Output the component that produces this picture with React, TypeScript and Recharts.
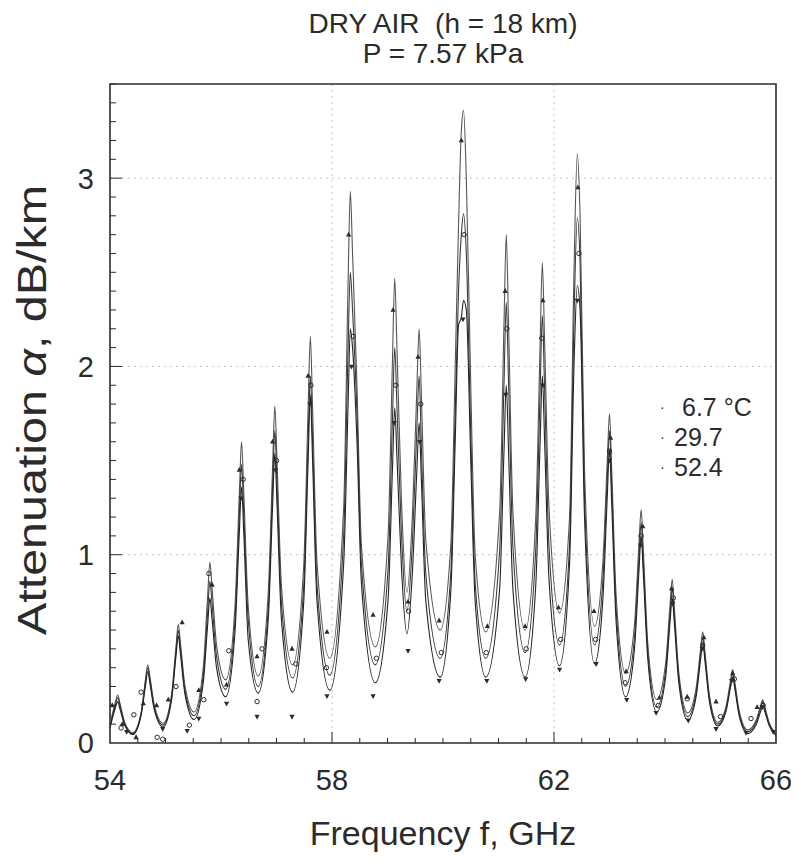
import React from "react"
import { ComposedChart, Line, Scatter, XAxis, YAxis, CartesianGrid, ReferenceArea } from "recharts"

// frequency grid (GHz) shared by the three model curves
const freq = [
  54.0,
  54.1, 54.14, 54.18, 54.26,
  54.41,
  54.56, 54.64, 54.68, 54.72, 54.8,
  54.955,
  55.11, 55.19, 55.23, 55.27, 55.35,
  55.515,
  55.68, 55.76, 55.8, 55.84, 55.92,
  56.085,
  56.25, 56.33, 56.37, 56.41, 56.49,
  56.67,
  56.85, 56.93, 56.97, 57.01, 57.09,
  57.29,
  57.49, 57.57, 57.61, 57.65, 57.73,
  57.96,
  58.21, 58.29, 58.33, 58.37, 58.45, 58.53,
  58.78,
  59.01, 59.09, 59.13, 59.17, 59.25,
  59.35,
  59.45, 59.53, 59.57, 59.61, 59.69,
  59.95,
  60.14, 60.22, 60.28, 60.33, 60.37, 60.42, 60.5, 60.58,
  60.77,
  61.02, 61.1, 61.14, 61.18, 61.26,
  61.48,
  61.67, 61.75, 61.79, 61.83, 61.91,
  62.1,
  62.28, 62.36, 62.42, 62.47, 62.55,
  62.73,
  62.88, 62.96, 63.0, 63.04, 63.12,
  63.29,
  63.45, 63.53, 63.57, 63.61, 63.69,
  63.85,
  64.01, 64.09, 64.13, 64.17, 64.25,
  64.41,
  64.56, 64.64, 64.68, 64.72, 64.8,
  64.95,
  65.1, 65.18, 65.22, 65.26, 65.34,
  65.49,
  65.64, 65.72, 65.76, 65.8, 65.88,
  66.0,
]

// attenuation dB/km, 6.7 °C
const att67 = [
  0.1,
  0.22, 0.255, 0.21, 0.115,
  0.055,
  0.16, 0.34, 0.415, 0.35, 0.2,
  0.105,
  0.26, 0.515, 0.63, 0.53, 0.305,
  0.165,
  0.4, 0.785, 0.96, 0.82, 0.52,
  0.335,
  0.715, 1.32, 1.6, 1.33, 0.73,
  0.355,
  0.79, 1.47, 1.79, 1.49, 0.83,
  0.415,
  0.94, 1.78, 2.16, 1.78, 0.96,
  0.45,
  1.25, 2.45, 2.93, 2.6, 1.9, 1.05,
  0.51,
  1.1, 2.04, 2.47, 2.1, 1.3,
  0.8,
  1.22, 1.89, 2.2, 1.85, 1.08,
  0.6,
  1.05, 2.0, 2.75, 3.25, 3.36, 3.0, 1.9, 1.0,
  0.59,
  1.22, 2.24, 2.7, 2.24, 1.23,
  0.6,
  1.19, 2.12, 2.55, 2.14, 1.25,
  0.69,
  1.2, 2.5, 3.13, 2.8, 1.45,
  0.62,
  0.96, 1.5, 1.75, 1.45, 0.78,
  0.37,
  0.63, 1.05, 1.24, 1.02, 0.53,
  0.23,
  0.42, 0.73, 0.87, 0.71, 0.37,
  0.16,
  0.29, 0.495, 0.59, 0.485, 0.255,
  0.11,
  0.195, 0.33, 0.39, 0.32, 0.165,
  0.07,
  0.12, 0.195, 0.23, 0.19, 0.105,
  0.05,
]

// 29.7 °C
const att297 = [
  0.09,
  0.205, 0.24, 0.2, 0.105,
  0.05,
  0.155, 0.325, 0.4, 0.335, 0.185,
  0.095,
  0.245, 0.49, 0.6, 0.5, 0.28,
  0.145,
  0.36, 0.7, 0.86, 0.735, 0.46,
  0.285,
  0.645, 1.22, 1.48, 1.22, 0.655,
  0.3,
  0.71, 1.36, 1.66, 1.37, 0.74,
  0.345,
  0.83, 1.6, 1.95, 1.6, 0.84,
  0.36,
  1.1, 2.1, 2.5, 2.3, 1.75, 0.95,
  0.415,
  0.92, 1.73, 2.1, 1.79, 1.12,
  0.7,
  1.075, 1.675, 1.95, 1.58, 0.9,
  0.45,
  0.9, 1.75, 2.4, 2.7, 2.81, 2.6, 1.65, 0.85,
  0.45,
  1.02, 1.92, 2.34, 1.93, 1.04,
  0.48,
  1.02, 1.875, 2.27, 1.885, 1.045,
  0.52,
  1.05, 2.25, 2.79, 2.55, 1.3,
  0.52,
  0.86, 1.41, 1.66, 1.36, 0.71,
  0.3,
  0.56, 0.98, 1.17, 0.955, 0.485,
  0.19,
  0.38, 0.68, 0.82, 0.67, 0.345,
  0.14,
  0.265, 0.47, 0.56, 0.46, 0.24,
  0.1,
  0.18, 0.31, 0.37, 0.3, 0.155,
  0.06,
  0.11, 0.185, 0.22, 0.18, 0.1,
  0.045,
]

// 52.4 °C
const att524 = [
  0.08,
  0.19, 0.22, 0.18, 0.098,
  0.045,
  0.146, 0.306, 0.38, 0.315, 0.174,
  0.085,
  0.23, 0.465, 0.57, 0.47, 0.26,
  0.125,
  0.32, 0.63, 0.77, 0.655, 0.4,
  0.245,
  0.58, 1.115, 1.36, 1.12, 0.55,
  0.265,
  0.65, 1.26, 1.54, 1.26, 0.65,
  0.27,
  0.745, 1.5, 1.85, 1.505, 0.75,
  0.28,
  0.95, 1.8, 2.2, 2.1, 1.6, 0.85,
  0.32,
  0.76, 1.46, 1.78, 1.52, 0.94,
  0.58,
  0.915, 1.455, 1.7, 1.4, 0.755,
  0.35,
  0.8, 1.6, 2.22, 2.26, 2.35, 2.3, 1.5, 0.75,
  0.35,
  0.815, 1.56, 1.9, 1.56, 0.815,
  0.35,
  0.83, 1.6, 1.95, 1.61, 0.87,
  0.41,
  0.95, 2.0, 2.43, 2.3, 1.2,
  0.42,
  0.76, 1.31, 1.56, 1.27, 0.64,
  0.245,
  0.5, 0.91, 1.1, 0.895, 0.445,
  0.165,
  0.345, 0.64, 0.77, 0.63, 0.315,
  0.12,
  0.245, 0.44, 0.53, 0.435, 0.22,
  0.09,
  0.17, 0.295, 0.35, 0.285, 0.14,
  0.05,
  0.095, 0.165, 0.2, 0.165, 0.09,
  0.04,
]

// measured points [f, attenuation]
const meas67 = [
  [54.04, 0.2], [54.22, 0.1], [54.47, 0.03], [54.6, 0.21], [54.84, 0.2], [55.05, 0.23], [55.3, 0.64],
  [55.6, 0.28], [55.84, 0.84], [56.1, 0.31], [56.33, 1.45], [56.65, 0.46], [56.93, 1.6], [57.28, 0.5],
  [57.57, 1.95], [57.91, 0.59], [58.3, 2.7], [58.74, 0.68], [59.1, 2.3], [59.37, 0.75], [59.55, 2.05],
  [59.93, 0.65], [60.33, 3.2], [60.8, 0.62], [61.12, 2.4], [61.48, 0.62], [61.8, 2.35], [62.08, 0.72],
  [62.43, 2.95], [62.72, 0.7], [63.02, 1.62], [63.3, 0.38], [63.6, 1.15], [63.9, 0.24], [64.12, 0.82],
  [64.4, 0.245], [64.7, 0.56], [64.92, 0.22], [65.22, 0.37], [65.66, 0.19],
]
const meas297 = [
  [54.2, 0.08], [54.43, 0.15], [54.56, 0.27], [54.85, 0.03], [54.95, 0.02], [55.19, 0.3], [55.43, 0.095],
  [55.69, 0.23], [55.78, 0.9], [56.14, 0.49], [56.4, 1.4], [56.65, 0.22], [56.74, 0.5], [57.0, 1.5],
  [57.35, 0.42], [57.62, 1.9], [57.9, 0.4], [58.38, 2.16], [58.8, 0.45], [59.15, 1.9], [59.38, 0.7],
  [59.6, 1.8], [59.97, 0.48], [60.38, 2.7], [60.78, 0.48], [61.15, 2.2], [61.5, 0.5], [61.78, 2.15],
  [62.12, 0.55], [62.45, 2.6], [62.75, 0.55], [63.0, 1.55], [63.28, 0.32], [63.57, 1.1], [63.88, 0.2],
  [64.15, 0.77], [64.4, 0.235], [64.68, 0.52], [65.0, 0.14], [65.25, 0.34], [65.55, 0.13], [65.77, 0.2],
]
const meas524 = [
  [54.3, 0.06], [54.95, 0.075], [55.39, 0.065], [55.6, 0.13], [56.1, 0.21], [56.36, 1.3], [56.65, 0.14],
  [56.98, 1.45], [57.28, 0.14], [57.6, 1.8], [57.91, 0.25], [58.35, 2.0], [58.74, 0.25], [59.12, 1.7],
  [59.37, 0.49], [59.58, 1.6], [59.93, 0.33], [60.36, 2.25], [60.79, 0.33], [61.13, 1.85], [61.49, 0.34],
  [61.8, 1.9], [62.1, 0.39], [62.42, 2.35], [62.76, 0.42], [63.0, 1.5], [63.31, 0.23], [63.56, 1.05],
  [63.84, 0.16], [64.14, 0.74], [64.42, 0.12], [64.67, 0.5], [64.92, 0.075], [65.2, 0.33], [65.46, 0.055],
  [65.75, 0.19], [65.95, 0.06],
]

const seriesNames = ["6.7 °C", "29.7", "52.4"]
const xLabels = [54, 58, 62, 66]
const yLabels = [0, 1, 2, 3]
const xTicks = Array.from({ length: 25 }, (_, i) => 54 + i * 0.5)
const yTicks = Array.from({ length: 36 }, (_, i) => i / 10)

const FONT = "'Liberation Sans', Arial, Helvetica, sans-serif"
const INK = "#2b2b2b"

const rows = freq.map((f, i) => ({ f, a67: att67[i], a297: att297[i], a524: att524[i] }))
const toPts = (arr: number[][]) => arr.map(([f, a]) => ({ f, a }))

function XTick({ x, y, payload }: any) {
  const v = payload.value
  const major = xLabels.includes(v)
  const edge = v === 54 || v === 66
  return (
    <g>
      {!edge && <line x1={x} x2={x} y1={y} y2={y - (major ? 11 : 5)} stroke={INK} strokeWidth={1} />}
      {major && (
        <text x={x} y={y + 47} textAnchor="middle" fontSize={29} fontFamily={FONT} fill={INK}>
          {v}
        </text>
      )}
    </g>
  )
}

function YTick({ x, y, payload }: any) {
  const v = payload.value
  const major = yLabels.includes(v)
  const edge = v === 0
  return (
    <g>
      {!edge && <line x1={x} x2={x + (major ? 12 : 6)} y1={y} y2={y} stroke={INK} strokeWidth={1} />}
      {major && (
        <text x={x - 16} y={y} dy="0.36em" textAnchor="end" fontSize={29} fontFamily={FONT} fill={INK}>
          {v}
        </text>
      )}
    </g>
  )
}

const UpTri = ({ cx, cy }: any) => (
  <polygon points={`${cx},${cy - 3} ${cx - 2.6},${cy + 1.8} ${cx + 2.6},${cy + 1.8}`} fill={INK} />
)
const DownTri = ({ cx, cy }: any) => (
  <polygon points={`${cx},${cy + 3} ${cx - 2.6},${cy - 1.8} ${cx + 2.6},${cy - 1.8}`} fill={INK} />
)
const Ring = ({ cx, cy }: any) => <circle cx={cx} cy={cy} r={2.2} fill="none" stroke={INK} strokeWidth={1} />

// legend text offsets inside the legend box
const legendTextLeft = [26, 18, 18]

export default function App() {
  return (
    <div style={{ position: "relative", width: 783, height: 845, fontFamily: FONT, color: INK }}>
      <div
        style={{
          position: "absolute",
          left: 0,
          top: 1,
          width: 870,
          textAlign: "center",
          fontSize: 28,
          lineHeight: "30px",
          whiteSpace: "pre",
        }}
      >
        {"DRY AIR  (h = 18 km)\nP = 7.57 kPa"}
      </div>

      <ComposedChart width={783} height={845} data={rows} margin={{ top: 76, right: 15, left: 0, bottom: 0 }}>
        <CartesianGrid
          horizontalValues={[1, 2, 3]}
          verticalValues={[58, 62]}
          strokeDasharray="2 4"
          stroke="#c2c2c2"
        />
        <XAxis
          dataKey="f"
          type="number"
          domain={[54, 66]}
          ticks={xTicks}
          interval={0}
          height={110}
          tickSize={0}
          tickMargin={0}
          tickLine={false}
          axisLine={false}
          tick={<XTick />}
          allowDataOverflow
          label={{
            content: () => (
              <text x={435} y={837} textAnchor="middle" fontSize={34} fontFamily={FONT} fill={INK}>
                Frequency f, GHz
              </text>
            ),
          }}
        />
        <YAxis
          type="number"
          domain={[0, 3.5]}
          ticks={yTicks}
          interval={0}
          width={102}
          tickSize={0}
          tickMargin={0}
          tickLine={false}
          axisLine={false}
          tick={<YTick />}
          allowDataOverflow
          label={{
            content: () => (
              <text
                x={38}
                y={402}
                transform="rotate(-90 38 402)"
                textAnchor="middle"
                fontSize={40}
                textLength={450}
                lengthAdjust="spacingAndGlyphs"
                fontFamily={FONT}
                fill={INK}
              >
                Attenuation <tspan fontStyle="italic">α</tspan>, dB/km
              </text>
            ),
          }}
        />
        <ReferenceArea x1={54} x2={66} y1={0} y2={3.5} fill="none" stroke={INK} strokeWidth={1.6} ifOverflow="visible" />

        <Line type="monotone" dataKey="a67" name={seriesNames[0]} stroke="#555" strokeWidth={1.1} dot={false} isAnimationActive={false} />
        <Line type="monotone" dataKey="a297" name={seriesNames[1]} stroke="#3a3a3a" strokeWidth={1.1} dot={false} isAnimationActive={false} />
        <Line type="monotone" dataKey="a524" name={seriesNames[2]} stroke="#222" strokeWidth={1.1} dot={false} isAnimationActive={false} />

        <Scatter data={toPts(meas67)} dataKey="a" shape={<UpTri />} isAnimationActive={false} />
        <Scatter data={toPts(meas297)} dataKey="a" shape={<Ring />} isAnimationActive={false} />
        <Scatter data={toPts(meas524)} dataKey="a" shape={<DownTri />} isAnimationActive={false} />
      </ComposedChart>

      {seriesNames.map((name, i) => (
        <div
          key={name}
          style={{ position: "absolute", left: 648, top: 386 + i * 30, fontSize: 25, lineHeight: "26px", whiteSpace: "pre" }}
        >
          <span style={{ position: "absolute", left: 4, top: 0, fontSize: 14 }}>·</span>
          <span style={{ position: "absolute", left: legendTextLeft[i], top: 0 }}>{name}</span>
        </div>
      ))}
    </div>
  )
}
